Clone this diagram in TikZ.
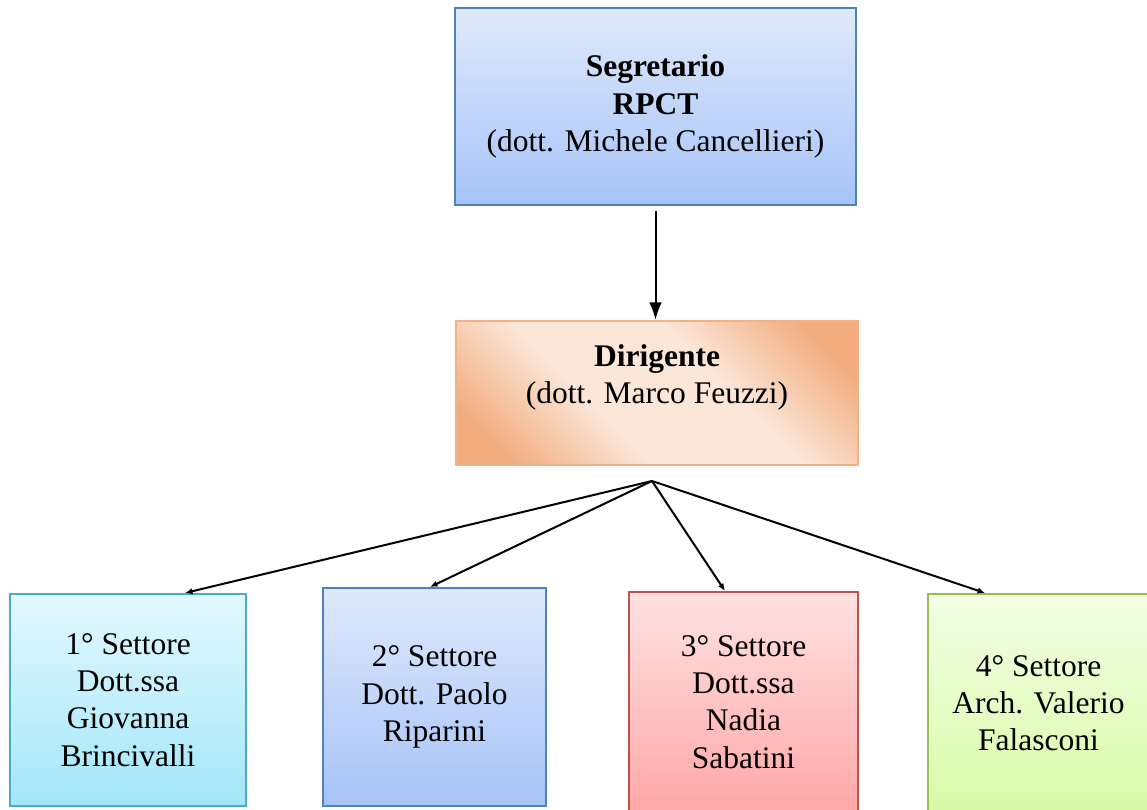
\documentclass[tikz,border=0pt]{standalone}
\usepackage{fontspec}
\setmainfont{Liberation Serif}
\usetikzlibrary{arrows.meta, positioning, calc}
\definecolor{BlueTop}{HTML}{DFE9FC}
\definecolor{BlueBot}{HTML}{A6C3F7}
\definecolor{BlueLine}{HTML}{4F81BD}
\definecolor{PeachLight}{HTML}{FBE6D8}
\definecolor{PeachDark}{HTML}{F2AC7E}
\definecolor{PeachLine}{HTML}{F4B183}
\definecolor{CyanTop}{HTML}{E2F8FE}
\definecolor{CyanBot}{HTML}{A3E7F9}
\definecolor{CyanLine}{HTML}{4BACC6}
\definecolor{RedTop}{HTML}{FFE2E2}
\definecolor{RedBot}{HTML}{FFA7A7}
\definecolor{RedLine}{HTML}{C0504D}
\definecolor{GreenTop}{HTML}{F3FFE6}
\definecolor{GreenBot}{HTML}{D9FAA6}
\definecolor{GreenLine}{HTML}{9BBB59}
\pgfdeclareverticalshading{peach}{100bp}{color(0bp)=(PeachDark); color(22bp)=(PeachDark);
  color(40bp)=(PeachLight); color(60bp)=(PeachLight); color(78bp)=(PeachDark); color(100bp)=(PeachDark)}
\tikzstyle{box} = [rectangle, draw, line width=0.8pt, align=center, inner sep=0pt,
                   font=\fontsize{12.6}{14.9}\selectfont]
\tikzstyle{link} = [line width=0.8pt, -{Latex[length=7pt, width=5pt]}]
\tikzstyle{branch} = [line width=0.8pt, -{Latex[length=3pt, width=2.5pt]}]

\begin{document}
\begin{tikzpicture}[x=0.4pt, y=-0.4pt]
					\useasboundingbox (0, 0) rectangle (1147, 810);

					\node (Segretario) [box, draw=BlueLine, top color=BlueTop, bottom color=BlueBot,
						minimum width=160.4pt, minimum height=78.8pt] at (655.5, 106.5)
						{\textbf{Segretario}\\\textbf{RPCT}\\(dott. Michele Cancellieri)};

					\node (Dirigente) [box, draw=PeachLine, shade, shading=peach, shading angle=-45,
						minimum width=160.8pt, minimum height=57.6pt] at (657, 393)
						{\textbf{Dirigente}\\(dott. Marco Feuzzi)\\\mbox{}};
					\draw[link, shorten <=2pt] (Segretario.south) -- (Segretario.south |- Dirigente.north);

					\coordinate (Fan) at (652, 481);

					\node (Settore1) [box, draw=CyanLine, top color=CyanTop, bottom color=CyanBot,
						minimum width=94.4pt, minimum height=84.8pt] at (128, 700)
						{1° Settore\\Dott.ssa\\Giovanna\\Brincivalli};
					\draw[branch] (Fan) -- ([xshift=22.8pt]Settore1.north);

					\node (Settore2) [box, draw=BlueLine, top color=BlueTop, bottom color=BlueBot,
						minimum width=89.2pt, minimum height=87.2pt] at (434.5, 697)
						{2° Settore\\Dott. Paolo\\Riparini};
					\draw[branch] (Fan) -- ([xshift=-1.8pt]Settore2.north);

					\node (Settore3) [box, draw=RedLine, top color=RedTop, bottom color=RedBot,
						minimum width=91.6pt, minimum height=88pt] at (743.5, 702)
						{3° Settore\\Dott.ssa\\Nadia\\Sabatini};
					\draw[branch] (Fan) -- ([xshift=-7.4pt]Settore3.north);

					\node (Settore4) [box, draw=GreenLine, top color=GreenTop, bottom color=GreenBot,
						minimum width=88.4pt, minimum height=87.2pt] at (1038.5, 703)
						{4° Settore\\Arch. Valerio\\Falasconi};
					\draw[branch] (Fan) -- ([xshift=-21.4pt]Settore4.north);
				\end{tikzpicture}
\end{document}
